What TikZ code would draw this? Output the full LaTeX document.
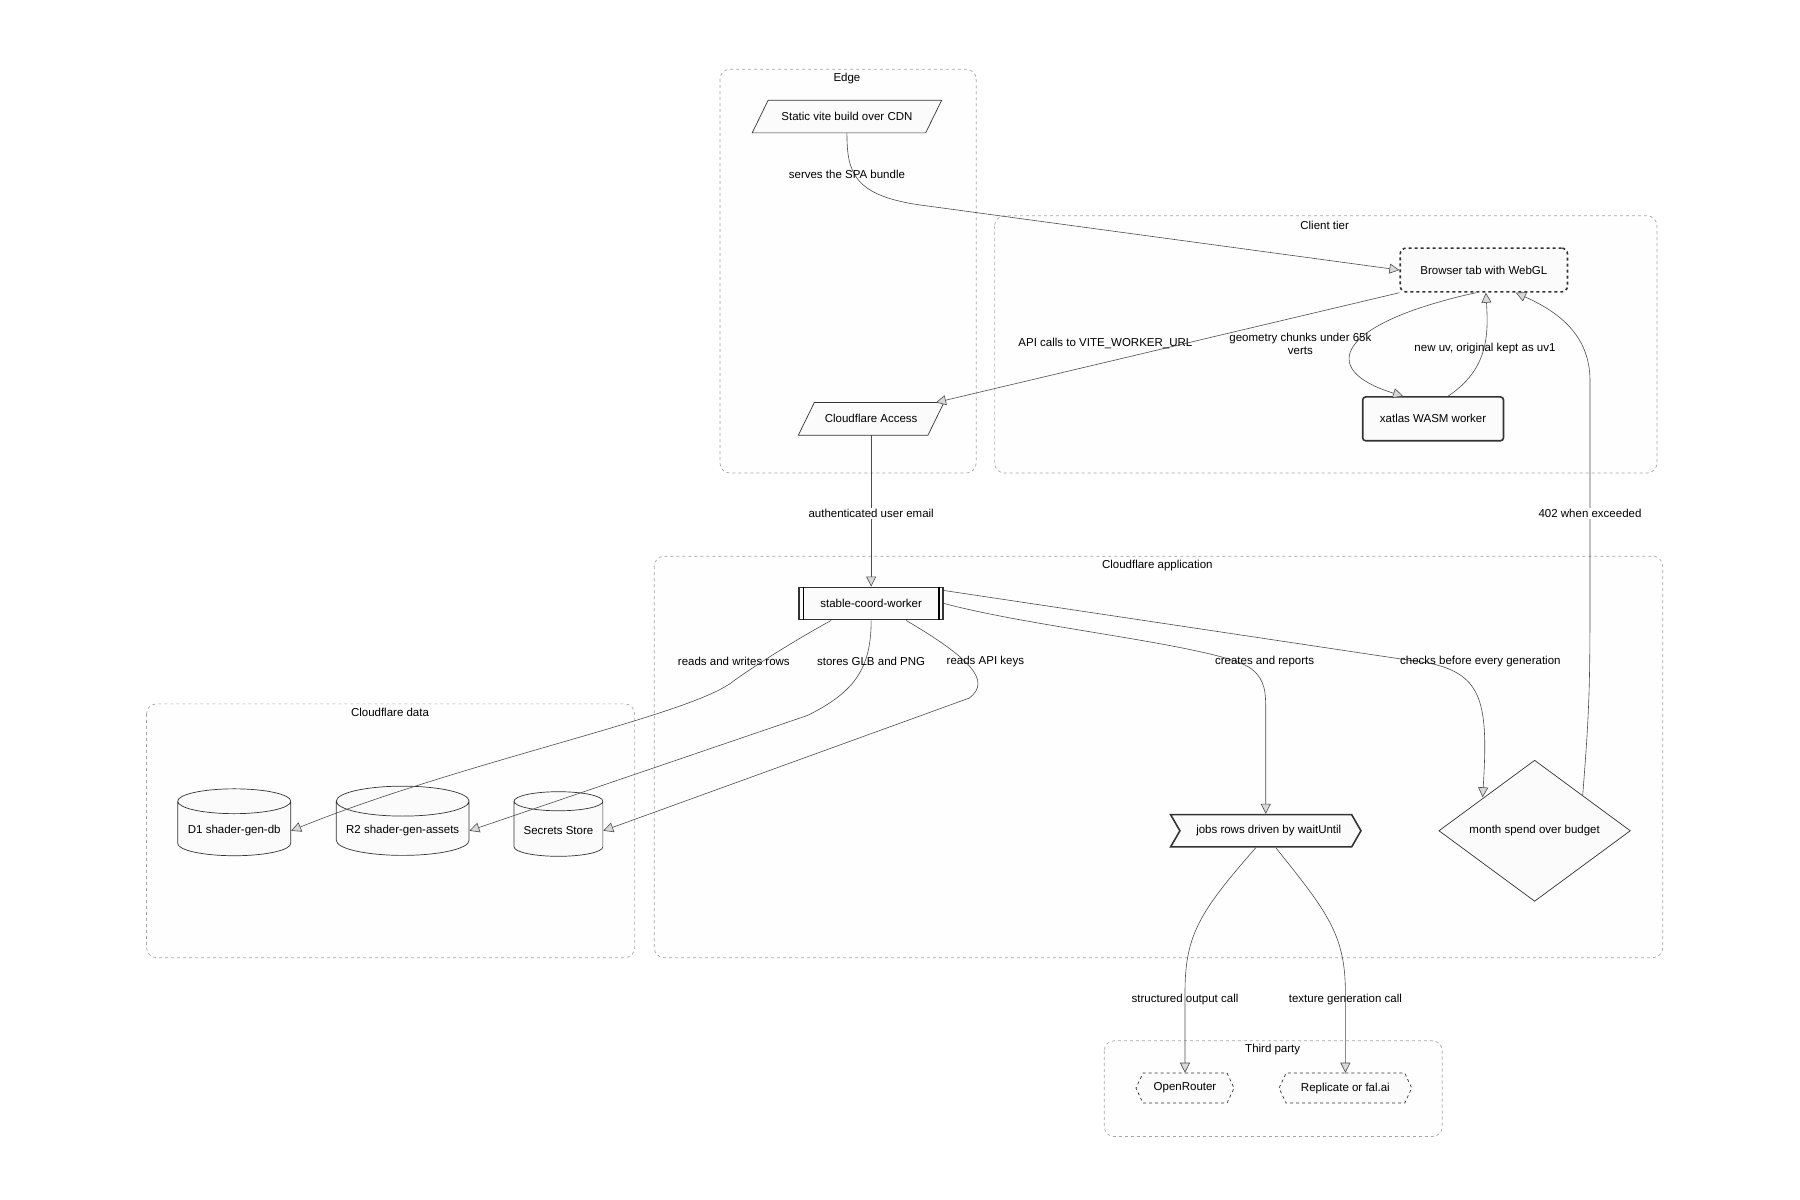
\documentclass[tikz,border=0pt]{standalone}
\usepackage{fontspec}
\setmainfont{Liberation Sans}
\usetikzlibrary{shapes.geometric,shapes.symbols,arrows.meta}
\begin{document}
\begin{tikzpicture}[x=1.154pt,y=-1.154pt,
 every node/.style={font=\fontsize{11.5}{13}\selectfont},
 cluster/.style={draw=gray!70,dashed,rounded corners=10pt,fill=gray!1,line width=0.7pt},
 ctitle/.style={},
 box/.style={draw=none,minimum height={28*1.154pt},inner sep=2pt},
 elab/.style={align=center},
 conn/.style={draw=gray!60!black,line width=0.6pt,-{Triangle[open,length=10pt,width=10pt,fill=gray!30]}},
 shp/.style={draw=black!80,fill=gray!3,line width=0.7pt}
]
\useasboundingbox (0,0) rectangle (1560,1040);
% clusters
\draw[cluster] (624,60) rectangle (846,410); \node[ctitle] at (734,68) {Edge};
\draw[cluster] (862,187) rectangle (1436,410); \node[ctitle] at (1148,195) {Client tier};
\draw[cluster] (567,482) rectangle (1441,830); \node[ctitle] at (1003,490) {Cloudflare application};
\draw[cluster] (127,610) rectangle (550,830); \node[ctitle] at (338,617) {Cloudflare data};
\draw[cluster] (957,902) rectangle (1250,985); \node[ctitle] at (1103,910) {Third party};
% nodes
\node[box,minimum width={150*1.154pt}] (cdn) at (734,101) {Static vite build over CDN};
\draw[shp] ([xshift=-8pt]cdn.south west) -- ([xshift=8pt]cdn.north west) -- ([xshift=8pt]cdn.north east) -- ([xshift=-8pt]cdn.south east) -- cycle;
\node at (cdn) {Static vite build over CDN};
\node[box,minimum width={112*1.154pt}] (acc) at (755,363) {};
\draw[shp] ([xshift=-8pt]acc.south west) -- ([xshift=8pt]acc.north west) -- ([xshift=8pt]acc.north east) -- ([xshift=-8pt]acc.south east) -- cycle;
\node at (acc) {Cloudflare Access};
\node[shp,dashed,line width=1.6pt,rounded corners=6pt,minimum width={145*1.154pt},minimum height={38*1.154pt}] (br) at (1286,234) {Browser tab with WebGL};
\node[shp,line width=1.6pt,rounded corners=3pt,minimum width={122*1.154pt},minimum height={38*1.154pt}] (xa) at (1242,363) {xatlas WASM worker};
\node[shp,line width=1.6pt,minimum width={125*1.154pt},minimum height={28*1.154pt}] (wk) at (755,523) {stable-coord-worker};
\draw[line width=1.2pt] ([xshift=5pt]wk.north west) -- ([xshift=5pt]wk.south west) ([xshift=-5pt]wk.north east) -- ([xshift=-5pt]wk.south east);
\node[shp,line width=1.6pt,signal,signal from=west,signal pointer angle=120,minimum width={165*1.154pt},minimum height={28*1.154pt}] (jb) at (1097,720) {\hspace{6pt}jobs rows driven by waitUntil};
\node[shp,diamond,aspect=1,minimum width={166*1.154pt},inner sep=0pt] (dm) at (1330,720) {month spend over budget};
\node[shp,cylinder,shape border rotate=90,aspect=0.25,minimum width={98*1.154pt},minimum height={58*1.154pt}] (d1) at (203,720) {D1 shader-gen-db};
\node[shp,cylinder,shape border rotate=90,aspect=0.25,minimum width={115*1.154pt},minimum height={60*1.154pt}] (r2) at (349,720) {R2 shader-gen-assets};
\node[shp,cylinder,shape border rotate=90,aspect=0.25,minimum width={77*1.154pt},minimum height={56*1.154pt}] (ss) at (484,720) {Secrets Store};
\node[shp,dashed,signal,signal to=east and west,signal pointer angle=130,minimum width={85*1.154pt},minimum height={26*1.154pt}] (or) at (1027,943) {OpenRouter};
\node[shp,dashed,signal,signal to=east and west,signal pointer angle=130,minimum width={115*1.154pt},minimum height={26*1.154pt}] (rp) at (1166,943) {Replicate or fal.ai};
% edges
\draw[conn] (cdn.south) .. controls (734,150) and (740,170) .. (800,178) -- (br.west);
\node[elab] at (734,151) {serves the SPA bundle};
\draw[conn] (br.south west) -- (acc.north east);
\node[elab] at (958,298) {API calls to VITE\_WORKER\_URL};
\draw[conn] ([xshift=-8pt]br.south) .. controls (1160,280) and (1140,320) .. ([xshift=-30pt]xa.north);
\node[elab] at (1127,298) {geometry chunks under 65k\\verts};
\draw[conn] ([xshift=15pt]xa.north) .. controls (1290,320) and (1290,290) .. ([xshift=2pt]br.south);
\node[elab] at (1287,302) {new uv, original kept as uv1};
\draw[conn] (dm.north east) .. controls (1378,610) and (1378,590) .. (1378,500) -- (1378,330) .. controls (1378,290) and (1350,270) .. ([xshift=32pt]br.south);
\node[elab,fill=white,inner sep=1pt] at (1378,445) {402 when exceeded};
\draw[conn] (acc.south) -- (wk.north);
\node[elab,fill=white,inner sep=1pt] at (755,445) {authenticated user email};
\draw[conn] ([xshift=-40pt]wk.south) .. controls (680,560) and (650,580) .. (636,590) .. controls (600,620) and (400,660) .. (d1.east);
\node[elab] at (636,573) {reads and writes rows};
\draw[conn] (wk.south) .. controls (755,580) and (740,600) .. (700,620) -- (r2.east);
\node[elab] at (755,573) {stores GLB and PNG};
\draw[conn] ([xshift=35pt]wk.south) .. controls (840,570) and (860,590) .. (840,605) -- (ss.east);
\node[elab] at (854,573) {reads API keys};
\draw[conn] (wk.east) .. controls (900,545) and (1060,560) .. (1085,580) .. controls (1097,590) and (1097,600) .. (1097,620) -- (jb.north);
\node[elab] at (1096,573) {creates and reports};
\draw[conn] ([yshift=-4pt]wk.north east) -- (1240,575) .. controls (1285,585) and (1290,610) .. ([xshift=-4pt,yshift=-2pt]dm.north west);
\node[elab] at (1283,573) {checks before every generation};
\draw[conn] ([xshift=-10pt]jb.south) .. controls (1040,790) and (1027,810) .. (1027,860) -- (or.north);
\node[elab] at (1027,866) {structured output call};
\draw[conn] ([xshift=10pt]jb.south) .. controls (1150,790) and (1166,810) .. (1166,860) -- (rp.north);
\node[elab] at (1166,866) {texture generation call};
\end{tikzpicture}
\end{document}
